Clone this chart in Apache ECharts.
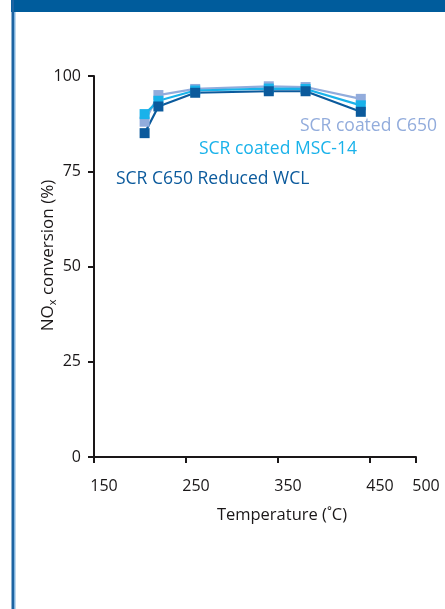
<!DOCTYPE html>
<html>
<head>
<meta charset="utf-8">
<script src="https://cdn.jsdelivr.net/npm/echarts@6/dist/echarts.min.js"></script>
<style>
  html, body { margin: 0; padding: 0; background: #ffffff; }
  #chart { width: 445px; height: 609px; }
</style>
</head>
<body>
<div id="chart"></div>
<script>
// Temperature points (°C) shared by all three catalysts
const temperatures = [205, 220, 260, 340, 380, 440];

// NOx conversion (%) per catalyst
const coatedC650 = [88, 95, 96.6, 97.3, 97.1, 94];
const coatedMSC14 = [90, 93.5, 96.2, 96.7, 96.6, 92.3];
const c650ReducedWCL = [85, 92, 95.6, 96, 96, 90.6];

const seriesNames = ['SCR coated C650', 'SCR coated MSC-14', 'SCR C650 Reduced WCL'];

// Axis ticks
const xTicks = [150, 250, 350, 450, 500];
const yTicks = [0, 25, 50, 75, 100];

const colors = {
  light: '#92acdc',
  cyan: '#19b2ea',
  dark: '#0b5a9c'
};

const FONT = 'Open Sans';
const INK = '#1a1718';

function pairs(xs, ys) {
  return xs.map((x, i) => [x, ys[i]]);
}

function lineSeries(name, values, color) {
  return {
    name: name,
    type: 'line',
    data: pairs(temperatures, values),
    symbol: 'rect',
    symbolSize: 10,
    showAllSymbol: true,
    lineStyle: { color: color, width: 2.2 },
    itemStyle: { color: color },
    emphasis: { disabled: true },
    animation: false
  };
}

const chart = echarts.init(document.getElementById('chart'), null, { renderer: 'canvas' });

chart.setOption({
  backgroundColor: '#ffffff',
  animation: false,
  grid: { left: 94, right: 29, top: 76, bottom: 152, containLabel: false },
  xAxis: {
    type: 'value',
    min: 150,
    max: 500,
    name: 'Temperature (˚C)',
    nameLocation: 'middle',
    nameGap: 50,
    nameMoveOverlap: false,
    nameTextStyle: { fontFamily: FONT, fontSize: 16.5, color: INK, padding: [0, 0, 0, 54] },
    axisLine: { show: true, onZero: false, lineStyle: { color: INK, width: 2 } },
    axisTick: { show: true, length: 6, lineStyle: { color: INK, width: 2 }, customValues: xTicks },
    axisLabel: {
      customValues: xTicks,
      fontFamily: FONT, fontSize: 16, color: INK, margin: 21,
      padding: [0, 0, 0, 20]
    },
    splitLine: { show: false }
  },
  yAxis: {
    type: 'value',
    min: 0,
    max: 100,
    interval: 25,
    name: '{n|NO}{s|x}{n| conversion (%)}',
    nameLocation: 'middle',
    nameGap: 36,
    nameMoveOverlap: false,
    nameRotate: 90,
    nameTextStyle: {
      padding: [0, 0, 0, 22],
      rich: {
        n: { fontFamily: FONT, fontSize: 17, color: INK },
        s: { fontFamily: FONT, fontSize: 11, color: INK, verticalAlign: 'bottom', padding: [9, 0, 0, 0] }
      }
    },
    axisLine: { show: true, onZero: false, lineStyle: { color: INK, width: 2 } },
    axisTick: { show: true, length: 6, lineStyle: { color: INK, width: 2 }, customValues: yTicks },
    axisLabel: { fontFamily: FONT, fontSize: 16, color: INK, margin: 13, customValues: yTicks },
    splitLine: { show: false }
  },
  series: [
    lineSeries(seriesNames[0], coatedC650, colors.light),
    lineSeries(seriesNames[1], coatedMSC14, colors.cyan),
    lineSeries(seriesNames[2], c650ReducedWCL, colors.dark)
  ],
  graphic: [
    // page frame: header band and left rule
    { type: 'rect', shape: { x: 11, y: 0, width: 434, height: 12 }, style: { fill: '#005c9c' }, silent: true },
    { type: 'rect', shape: { x: 11.5, y: 0, width: 2.5, height: 609 }, style: { fill: '#1d64a2' }, silent: true },
    { type: 'rect', shape: { x: 14, y: 12, width: 1.5, height: 597 }, style: { fill: '#7eb2dd' }, silent: true },
    // series labels
    { type: 'text', left: 300, top: 117, style: { text: seriesNames[0], fill: colors.light, font: '17.5px "Open Sans"' }, silent: true },
    { type: 'text', left: 199, top: 140, style: { text: seriesNames[1], fill: colors.cyan, font: '17.5px "Open Sans"' }, silent: true },
    { type: 'text', left: 116, top: 170, style: { text: seriesNames[2], fill: colors.dark, font: '17.5px "Open Sans"' }, silent: true }
  ]
});
</script>
</body>
</html>
